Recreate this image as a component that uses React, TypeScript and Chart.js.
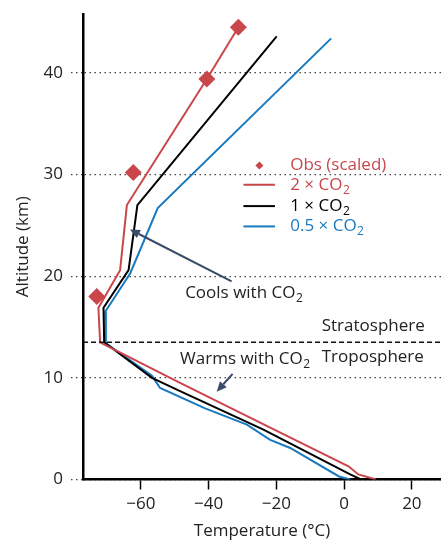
import React, { useEffect, useRef } from 'react';
import { Chart, registerables } from 'chart.js';

Chart.register(...registerables);

// ---- data ----
const xTicks = [-60, -40, -20, 0, 20];
const yTicks = [0, 10, 20, 30, 40];

const obsTemp = [-31.2, -40.5, -62.2, -73.0];
const obsAlt = [44.5, 39.4, 30.2, 18.0];

const co2x2Temp = [-31.2, -40.5, -64.1, -66.1, -72.5, -72.0, -48.4, -21.8, 1.3, 4.2, 9.4];
const co2x2Alt = [44.5, 39.4, 27.0, 20.6, 16.9, 13.5, 9.5, 5.1, 1.3, 0.5, 0];

const co2x1Temp = [-19.9, -61.0, -63.6, -71.0, -70.8, -56.7, -48.4, -23.8, 1.8, 5.0];
const co2x1Alt = [43.6, 27.0, 20.6, 16.9, 13.5, 10.0, 8.7, 4.9, 0.5, 0];

const co2x05Temp = [-3.8, -55.0, -63.1, -70.5, -70.3, -56.7, -54.3, -41.0, -28.7, -21.8, -15.9, -1.5, 1.8];
const co2x05Alt = [43.4, 26.7, 20.3, 16.5, 13.4, 10.2, 9.0, 7.0, 5.4, 3.9, 3.1, 0.3, 0];

const tropopauseAlt = 13.5;

const seriesLabels = ['Obs (scaled)', '2 × CO', '1 × CO', '0.5 × CO'];

// ---- styles ----
const RED = '#c9474b';
const BLACK = '#000000';
const BLUE = '#1a7abf';
const ARROW = '#3b4a6b';
const TEXT = '#222222';
const FONT = "'Open Sans', Roboto, 'DejaVu Sans', sans-serif";
const FS = 17;

// annotation anchors in data units (temperature, altitude)
const ANN = {
  legendMarkerT: -25.0,
  legendLineT0: -29.7,
  legendLineT1: -20.4,
  legendTextT: -15.9,
  legendAlts: [30.9, 29.0, 26.9, 24.9],
  stratT: -6.6, stratZ: 15.1,
  tropT: -6.6, tropZ: 12.0,
  coolsT: -46.9, coolsZ: 18.3,
  warmsT: -48.4, warmsZ: 11.8,
  coolsArrow: [-33.2, 19.5, -63.2, 24.6],
  warmsArrow: [-32.9, 10.4, -37.6, 8.64],
};

const toPts = (xs: number[], ys: number[]) => xs.map((x, i) => ({ x, y: ys[i] }));

function drawText(ctx: CanvasRenderingContext2D, x: number, y: number, text: string, color: string, sub?: string) {
  ctx.save();
  ctx.fillStyle = color;
  ctx.textBaseline = 'middle';
  ctx.textAlign = 'left';
  ctx.font = `${FS}px ${FONT}`;
  ctx.fillText(text, x, y);
  if (sub) {
    const w = ctx.measureText(text).width;
    ctx.font = `12px ${FONT}`;
    ctx.fillText(sub, x + w + 0.5, y + 5.5);
  }
  ctx.restore();
}

function drawArrow(ctx: CanvasRenderingContext2D, x0: number, y0: number, x1: number, y1: number) {
  const ang = Math.atan2(y1 - y0, x1 - x0);
  const hl = 10, hw = 4.5;
  const bx = x1 - hl * Math.cos(ang), by = y1 - hl * Math.sin(ang);
  ctx.save();
  ctx.strokeStyle = ARROW;
  ctx.fillStyle = ARROW;
  ctx.lineWidth = 2;
  ctx.beginPath();
  ctx.moveTo(x0, y0);
  ctx.lineTo(bx, by);
  ctx.stroke();
  ctx.beginPath();
  ctx.moveTo(x1, y1);
  ctx.lineTo(bx + hw * Math.sin(ang), by - hw * Math.cos(ang));
  ctx.lineTo(bx - hw * Math.sin(ang), by + hw * Math.cos(ang));
  ctx.closePath();
  ctx.fill();
  ctx.restore();
}

const annotationPlugin = {
  id: 'annotations',
  afterDatasetsDraw(chart: any) {
    const { ctx, chartArea } = chart;
    const xs = chart.scales.x, ys = chart.scales.y;
    const px = (t: number) => xs.getPixelForValue(t);
    const py = (z: number) => ys.getPixelForValue(z);

    // tropopause dashed line
    ctx.save();
    ctx.strokeStyle = '#111';
    ctx.lineWidth = 1.5;
    ctx.setLineDash([5, 3]);
    ctx.beginPath();
    ctx.moveTo(chartArea.left, py(tropopauseAlt));
    ctx.lineTo(chartArea.right, py(tropopauseAlt));
    ctx.stroke();
    ctx.restore();

    drawText(ctx, px(ANN.stratT), py(ANN.stratZ), 'Stratosphere', TEXT);
    drawText(ctx, px(ANN.tropT), py(ANN.tropZ), 'Troposphere', TEXT);
    drawText(ctx, px(ANN.coolsT), py(ANN.coolsZ), 'Cools with CO', TEXT, '2');
    drawText(ctx, px(ANN.warmsT), py(ANN.warmsZ), 'Warms with CO', TEXT, '2');

    const ca = ANN.coolsArrow, wa = ANN.warmsArrow;
    drawArrow(ctx, px(ca[0]), py(ca[1]), px(ca[2]), py(ca[3]));
    drawArrow(ctx, px(wa[0]), py(wa[1]), px(wa[2]), py(wa[3]));

    // legend
    const colors = [RED, RED, BLACK, BLUE];
    ANN.legendAlts.forEach((z, i) => {
      const y = py(z);
      if (i === 0) {
        const cx = px(ANN.legendMarkerT), r = 4;
        ctx.save();
        ctx.fillStyle = RED;
        ctx.beginPath();
        ctx.moveTo(cx - r, y);
        ctx.lineTo(cx, y - r);
        ctx.lineTo(cx + r, y);
        ctx.lineTo(cx, y + r);
        ctx.closePath();
        ctx.fill();
        ctx.restore();
        drawText(ctx, px(ANN.legendTextT), y, seriesLabels[0], colors[0]);
      } else {
        ctx.save();
        ctx.strokeStyle = colors[i];
        ctx.lineWidth = 2;
        ctx.beginPath();
        ctx.moveTo(px(ANN.legendLineT0), y);
        ctx.lineTo(px(ANN.legendLineT1), y);
        ctx.stroke();
        ctx.restore();
        drawText(ctx, px(ANN.legendTextT), y, seriesLabels[i], colors[i], '2');
      }
    });
  },
};

const fmt = (v: number) => (v < 0 ? '\u2212' + Math.abs(v) : String(v));

const zeroPad = (s: any) => { s.paddingLeft = 0; s.paddingRight = 0; s.paddingTop = 0; s.paddingBottom = 0; };

export default function App() {
  const ref = useRef<HTMLCanvasElement | null>(null);
  useEffect(() => {
    if (!ref.current) return;
    Chart.defaults.font.family = FONT;
    const chart = new Chart(ref.current, {
      type: 'scatter',
      data: {
        datasets: [
          {
            label: seriesLabels[0],
            data: toPts(obsTemp, obsAlt),
            pointStyle: 'rectRot',
            pointRadius: 8.5,
            backgroundColor: RED,
            borderColor: RED,
            borderWidth: 0,
            showLine: false,
          },
          {
            label: '2xCO2', data: toPts(co2x2Temp, co2x2Alt), showLine: true,
            borderColor: RED, borderWidth: 2, pointRadius: 0, tension: 0,
          },
          {
            label: '1xCO2', data: toPts(co2x1Temp, co2x1Alt), showLine: true,
            borderColor: BLACK, borderWidth: 2, pointRadius: 0, tension: 0,
          },
          {
            label: '0.5xCO2', data: toPts(co2x05Temp, co2x05Alt), showLine: true,
            borderColor: BLUE, borderWidth: 2, pointRadius: 0, tension: 0,
          },
        ],
      } as any,
      options: {
        animation: false,
        responsive: true,
        maintainAspectRatio: false,
        layout: { autoPadding: false, padding: { top: 14, right: 0, left: 0, bottom: 0 } },
        plugins: { legend: { display: false }, tooltip: { enabled: false } },
        scales: {
          x: {
            type: 'linear',
            min: -77.05,
            max: 28.6,
            afterBuildTicks: (s: any) => { s.ticks = xTicks.map((v) => ({ value: v })); },
            afterFit: (s: any) => { s.height = 61.5; zeroPad(s); },
            grid: { drawOnChartArea: false, drawTicks: true, tickLength: 10, tickColor: '#000', tickWidth: 1.5 },
            border: { display: true, color: '#000', width: 2.5 },
            ticks: { font: { size: FS, family: FONT }, color: TEXT, padding: 4, maxRotation: 0, callback: (v: any) => fmt(Number(v)) },
            title: { display: true, text: 'Temperature (°C)', font: { size: FS, family: FONT }, color: TEXT, padding: { top: 0, bottom: 0 } },
          },
          y: {
            type: 'linear',
            min: 0,
            max: 45.8,
            afterBuildTicks: (s: any) => { s.ticks = yTicks.map((v) => ({ value: v })); },
            afterFit: (s: any) => { s.width = 83; zeroPad(s); },
            grid: { color: '#444', lineWidth: 1.2, tickLength: 12, tickColor: '#444', tickWidth: 1.2, tickBorderDash: [1.5, 3.5] },
            border: { display: true, color: '#000', width: 2.5, dash: [1.5, 3.5] },
            ticks: { font: { size: FS, family: FONT }, color: TEXT, padding: 8, callback: (v: any) => fmt(Number(v)) },
            title: { display: true, text: 'Altitude (km)', font: { size: FS, family: FONT }, color: TEXT, padding: { top: 13, bottom: 0 } },
          },
        },
      } as any,
      plugins: [annotationPlugin],
    });
    return () => chart.destroy();
  }, []);

  return (
    <div style={{ position: 'fixed', left: 0, top: 0, width: 441, height: 541, background: '#fff' }}>
      <canvas ref={ref} />
    </div>
  );
}
